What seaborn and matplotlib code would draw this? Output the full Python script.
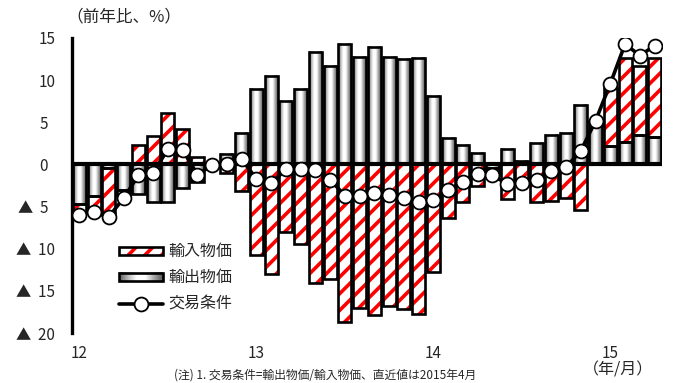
import numpy as np
import matplotlib
matplotlib.use("Agg")
import matplotlib.pyplot as plt
from matplotlib.patches import Rectangle
from matplotlib.colors import LinearSegmentedColormap
from matplotlib.lines import Line2D
import seaborn as sns

# Monthly, 2012/01 - 2015/04 (year-on-year, %)
export_price = [-4.7, -3.8, -0.4, -3.0, -3.5, -4.4, -4.4, -2.8, -2.1, 0.1, 1.2, 3.7,
                8.9, 10.5, 7.5, 8.9, 13.3, 11.7, 14.3, 12.8, 13.9, 12.7, 12.5, 12.6,
                8.1, 3.1, 2.3, 1.4, -0.4, 1.8, 0.4, 2.5, 3.5, 3.7, 7.1, 5.0,
                2.2, 2.65, 3.45, 3.2]
# import prices, sign inverted (contribution to terms of trade)
import_price = [-1.0, -1.5, -5.6, -0.6, 2.3, 3.4, 6.1, 4.2, 0.9, -0.2, -1.0, -3.1,
                -10.8, -13.0, -8.0, -9.4, -14.1, -13.6, -18.7, -17.0, -17.9, -16.8, -17.2, -17.8,
                -12.8, -6.3, -4.4, -2.5, -0.9, -4.1, -1.8, -4.5, -4.35, -4.0, -5.45, 0.2,
                6.9, 10.0, 8.25, 9.45]
terms_of_trade = [-6.0, -5.6, -6.2, -4.0, -1.3, -1.0, 1.8, 1.7, -1.2, -0.1, 0.1, 0.6,
                  -1.7, -2.2, -0.6, -0.5, -0.7, -1.8, -3.7, -3.7, -3.4, -3.6, -4.0, -4.4,
                  -4.2, -3.0, -2.1, -1.1, -1.3, -2.3, -2.2, -1.8, -0.8, -0.3, 1.6, 5.2,
                  9.6, 14.3, 12.9, 14.1]
year_labels = ["12", "13", "14", "15"]
y_ticks = [15, 10, 5, 0, -5, -10, -15, -20]
y_tick_labels = ["15", "10", "5  ", "0  ", "▲  5  ", "▲  10", "▲  15", "▲  20"]
legend_labels = ["輸入物価", "輸出物価", "交易条件"]

sns.set_theme(style="white")
plt.rcParams["font.family"] = ["Noto Sans CJK JP", "DejaVu Sans"]
plt.rcParams["hatch.linewidth"] = 2.6

fig = plt.figure(figsize=(6.76, 3.83), dpi=100)
ax = fig.add_axes([72 / 676, 50 / 383, 590 / 676, 295 / 383])

n = len(export_price)
x = np.arange(n)
width = 0.88
cyl = LinearSegmentedColormap.from_list(
    "cyl", ["#5e5e5e", "#b8b8b8", "#ffffff", "#ffffff", "#a8a8a8", "#5a5a5a"])
grad = np.linspace(0, 1, 64).reshape(1, -1)


def gray_bar(xc, y0, y1, w=width):
    lo, hi = min(y0, y1), max(y0, y1)
    if hi - lo <= 0:
        return
    ax.imshow(grad, extent=[xc - w / 2, xc + w / 2, lo, hi], aspect="auto",
              cmap=cyl, interpolation="bilinear", zorder=2)
    ax.add_patch(Rectangle((xc - w / 2, lo), w, hi - lo, fill=False,
                           edgecolor="black", linewidth=1.9, zorder=3))


def red_bar(xc, y0, y1, w=width):
    lo, hi = min(y0, y1), max(y0, y1)
    if hi - lo <= 0:
        return
    ax.add_patch(Rectangle((xc - w / 2, lo), w, hi - lo, facecolor="white",
                           edgecolor="#ff0000", hatch="//", linewidth=0, zorder=2))
    ax.add_patch(Rectangle((xc - w / 2, lo), w, hi - lo, fill=False,
                           edgecolor="black", linewidth=1.9, zorder=3))


# stacked: export first from zero, import contribution beyond it when same sign
for i in range(n):
    e, m = export_price[i], import_price[i]
    pos, neg = 0.0, 0.0
    if e >= 0:
        gray_bar(x[i], 0, e); pos = e
    else:
        gray_bar(x[i], 0, e); neg = e
    if m >= 0:
        red_bar(x[i], pos, pos + m)
    else:
        red_bar(x[i], neg, neg + m)

ax.axhline(0, color="black", linewidth=3, zorder=4)

sns.lineplot(x=x, y=terms_of_trade, ax=ax, color="black", linewidth=2.6,
             marker="o", markersize=10, markerfacecolor="white",
             markeredgecolor="black", markeredgewidth=1.3, zorder=6)

ax.set_xlim(-0.5, n - 0.5)
ax.set_ylim(-20, 15)
ax.set_yticks(y_ticks)
ax.set_yticklabels(y_tick_labels, fontsize=11)
ax.set_xticks([0, 12, 24, 36])
ax.set_xticklabels(year_labels, fontsize=11)
ax.tick_params(axis="y", direction="in", length=5, width=2, color="black", pad=12)
ax.tick_params(axis="x", length=0, pad=9)
for s in ["top", "right", "bottom"]:
    ax.spines[s].set_visible(False)
ax.spines["left"].set_linewidth(2.4)
ax.spines["left"].set_color("black")
ax.grid(False)

# legend
lx0, lx1 = 2.69, 5.67
rows = [-10.3, -13.4, -16.5]
ph = 0.95
red_bar((lx0 + lx1) / 2, rows[0] - ph / 2, rows[0] + ph / 2, w=lx1 - lx0)
gray_bar((lx0 + lx1) / 2, rows[1] - ph / 2, rows[1] + ph / 2, w=lx1 - lx0)
ax.add_line(Line2D([lx0, lx1], [rows[2], rows[2]], color="black", linewidth=2.6, zorder=6))
ax.plot([(lx0 + lx1) / 2], [rows[2]], marker="o", markersize=10,
        markerfacecolor="white", markeredgecolor="black", markeredgewidth=1.3, zorder=7)
for r, lab in zip(rows, legend_labels):
    ax.text(lx1 + 0.35, r, lab, fontsize=11.5, va="center", ha="left", zorder=7)

fig.text(66 / 676, 1 - 17 / 383, "（前年比、%）", fontsize=12, ha="left", va="center")
fig.text(618 / 676, 1 - 370 / 383, "（年/月）", fontsize=11.5, ha="center", va="center")
fig.text(174 / 676, 1 / 383, "(注) 1. 交易条件=輸出物価/輸入物価、直近値は2015年4月",
         fontsize=8.5, ha="left", va="bottom")

fig.savefig("out.png", dpi=100)
